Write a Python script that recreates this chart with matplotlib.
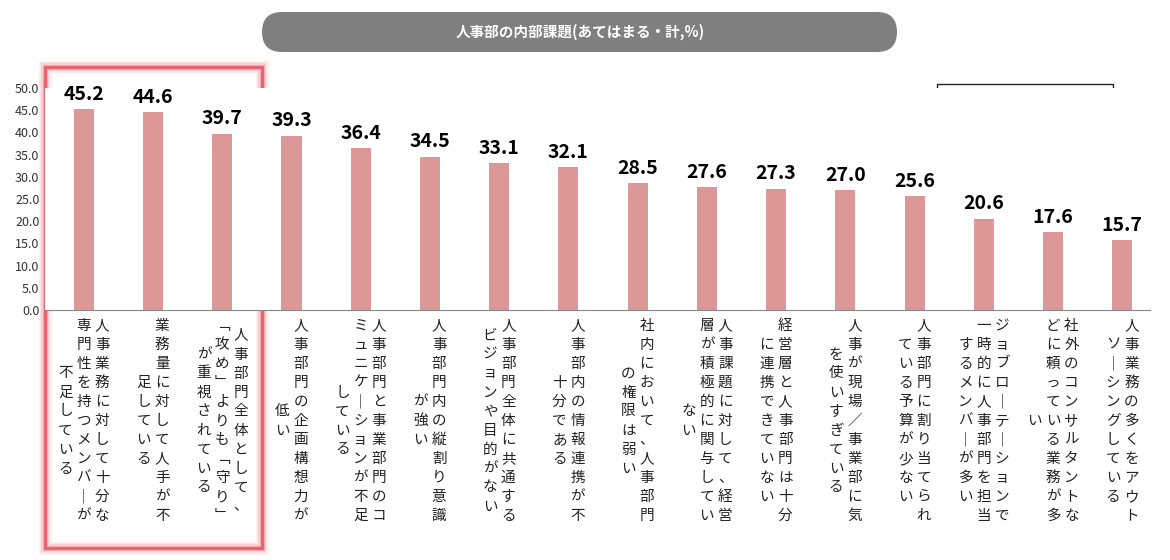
import matplotlib.pyplot as plt
import matplotlib.transforms as mtransforms
from matplotlib.patches import FancyBboxPatch

plt.rcParams['font.family'] = ['Noto Sans CJK JP', 'DejaVu Sans']

values = [45.2, 44.6, 39.7, 39.3, 36.4, 34.5, 33.1, 32.1, 28.5, 27.6, 27.3, 27.0, 25.6, 20.6, 17.6, 15.7]
# each label: columns from right to left
labels = [
    ['人事業務に対して十分な', '専門性を持つメンバーが', '不足している'],
    ['業務量に対して人手が不', '足している'],
    ['人事部門全体として、', '「攻め」よりも「守り」', 'が重視されている'],
    ['人事部門の企画構想力が', '低い'],
    ['人事部門と事業部門のコ', 'ミュニケーションが不足', 'している'],
    ['人事部門内の縦割り意識', 'が強い'],
    ['人事部門全体に共通する', 'ビジョンや目的がない'],
    ['人事部内の情報連携が不', '十分である'],
    ['社内において、人事部門', 'の権限は弱い'],
    ['人事課題に対して、経営', '層が積極的に関与してい', 'ない'],
    ['経営層と人事部門は十分', 'に連携できていない'],
    ['人事が現場／事業部に気', 'を使いすぎている'],
    ['人事部門に割り当てられ', 'ている予算が少ない'],
    ['ジョブローテーションで', '一時的に人事部門を担当', 'するメンバーが多い'],
    ['社外のコンサルタントな', 'どに頼っている業務が多', 'い'],
    ['人事業務の多くをアウト', 'ソーシングしている'],
]
title = '人事部の内部課題(あてはまる・計,%)'
vert = {'ー': '｜', '「': '﹁', '」': '﹂'}

W, H = 1170, 560
fig = plt.figure(figsize=(W / 100, H / 100), dpi=100)
ax = fig.add_axes([45 / W, 1 - 310 / H, 1105 / W, 222 / H])
x = list(range(len(values)))
ax.bar(x, values, width=0.29, color='#dc9897')
ax.set_ylim(0, 50)
ax.set_xlim(-0.56, 15.4)
ax.set_yticks([i * 5 for i in range(11)])
ax.set_yticklabels([f'{i * 5:.1f}' for i in range(11)], fontsize=9, color='#333333')
ax.set_xticks([])
for s in ['top', 'right', 'left']:
    ax.spines[s].set_visible(False)
ax.spines['bottom'].set_color('#888888')
ax.tick_params(axis='y', length=0, pad=4)

for xi, v in zip(x, values):
    ax.text(xi, v + 1.2, f'{v:.1f}', ha='center', va='bottom', fontsize=14,
            fontweight='bold', clip_on=False)

tr = mtransforms.blended_transform_factory(ax.transData, fig.transFigure)
colw = 0.265
rowh = 19.0
maxlen = 11
for xi, cols in zip(x, labels):
    k = len(cols)
    for i, col in enumerate(cols):
        cx = xi + ((k - 1) / 2 - i) * colw
        start = (maxlen - len(col)) / 2
        for j, ch in enumerate(col):
            ypx = 326 + (start + j) * rowh
            ax.text(cx, 1 - ypx / H, vert.get(ch, ch), transform=tr, ha='center',
                    va='center', fontsize=10.5, color='#222222', clip_on=False)

# overlay in pixel coordinates for decorations
ov = fig.add_axes([0, 0, 1, 1], zorder=-1)
ov.set_xlim(0, W)
ov.set_ylim(H, 0)
ov.axis('off')
ov.add_patch(FancyBboxPatch((262, 12), 635, 40, boxstyle='round,pad=0,rounding_size=20',
                            facecolor='#7f7f7f', edgecolor='none'))
ov.text(580, 32, title, ha='center', va='center', color='white',
        fontsize=10.5, fontweight='bold')
ov.add_patch(plt.Rectangle((937, 84), 176, 22, facecolor='white',
                           edgecolor='#222222', linewidth=1))
ov.text(1025, 95, 'n=1,934', ha='center', va='center', fontsize=7)

# highlight box with glow
for lw, a in [(9, 0.12), (6, 0.2), (3.5, 0.35), (2, 1.0)]:
    ov.add_patch(plt.Rectangle((45, 67), 217, 481, facecolor='none',
                               edgecolor='#e8606a', linewidth=lw, alpha=a))

fig.savefig('out.png', dpi=100)
